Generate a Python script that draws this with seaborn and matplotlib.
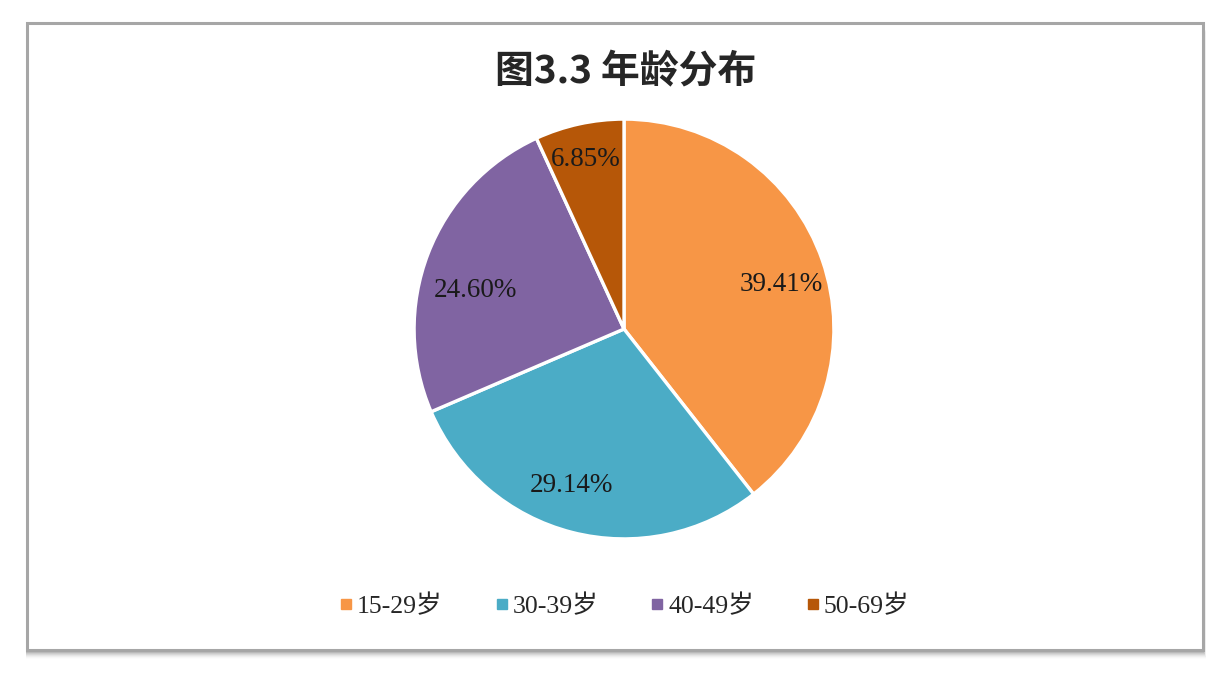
import matplotlib
matplotlib.use("Agg")
import matplotlib.pyplot as plt
import seaborn as sns
from matplotlib.patches import Rectangle
from matplotlib.lines import Line2D

sns.set_theme(style="white")
plt.rcParams['font.family'] = ['Liberation Serif', 'Noto Sans CJK SC']

categories = ["15-29岁", "30-39岁", "40-49岁", "50-69岁"]
values = [39.41, 29.14, 24.60, 6.85]
colors = ["#F79646", "#4BACC6", "#8064A2", "#B65708"]
title = "图3.3 年龄分布"

W, H = 1228, 674
fig = plt.figure(figsize=(W / 100, H / 100), dpi=100)
fig.patch.set_facecolor("white")

# frame with soft shadow
def px_rect(x0, y0, x1, y1, **kw):
    return Rectangle((x0 / W, 1 - y1 / H), (x1 - x0) / W, (y1 - y0) / H,
                     transform=fig.transFigure, **kw)

for i, a in enumerate([0.10, 0.08, 0.06, 0.05, 0.04, 0.03, 0.02, 0.01]):
    fig.patches.append(px_rect(27 - 1, 23 + 2 + i, 1203 + 1 + i * 0.3, 650 + 2 + i,
                               facecolor="black", edgecolor="none", alpha=a, zorder=0))
fig.patches.append(px_rect(27, 23, 1203, 650, facecolor="white",
                           edgecolor="#A6A6A6", linewidth=2.2, zorder=1))

# pie axes
cx, cy, R = 624, 329, 212
ax = fig.add_axes([(cx - R) / W, 1 - (cy + R) / H, 2 * R / W, 2 * R / H])
ax.set_zorder(2)
ax.patch.set_alpha(0)
wedges, texts, autotexts = ax.pie(
    values, colors=colors, startangle=90, counterclock=False,
    autopct=lambda p: f"{p:.2f}%", pctdistance=0.77,
    wedgeprops=dict(edgecolor="white", linewidth=2.4),
    textprops=dict(fontsize=19.5, color="#1a1a1a"),
    radius=1.0,
)
# Excel-style label placement (relative to pie radius)
label_pos = [(0.75, 0.212), (-0.25, -0.745), (-0.708, 0.184), (-0.184, 0.807)]
for t, p in zip(autotexts, label_pos):
    t.set_position(p)
ax.set_xlim(-1.01, 1.01)
ax.set_ylim(-1.01, 1.01)
ax.set_aspect("equal")
ax.axis("off")

fig.text(626 / W, 1 - 72 / H, title, ha="center", va="center",
         fontsize=28, fontweight="bold",
         family=["Noto Sans CJK SC", "DejaVu Sans"], zorder=3)

handles = [Line2D([], [], marker="s", linestyle="none", markersize=7,
                  markerfacecolor=c, markeredgecolor=c) for c in colors]
leg = fig.legend(handles, categories, loc="center", ncol=4,
                 bbox_to_anchor=(624 / W, 1 - 606 / H), frameon=False,
                 fontsize=18.5, handlelength=0.6, handletextpad=0.12,
                 columnspacing=2.0)
leg.set_zorder(3)

fig.savefig("out.png", dpi=100, facecolor="white")
